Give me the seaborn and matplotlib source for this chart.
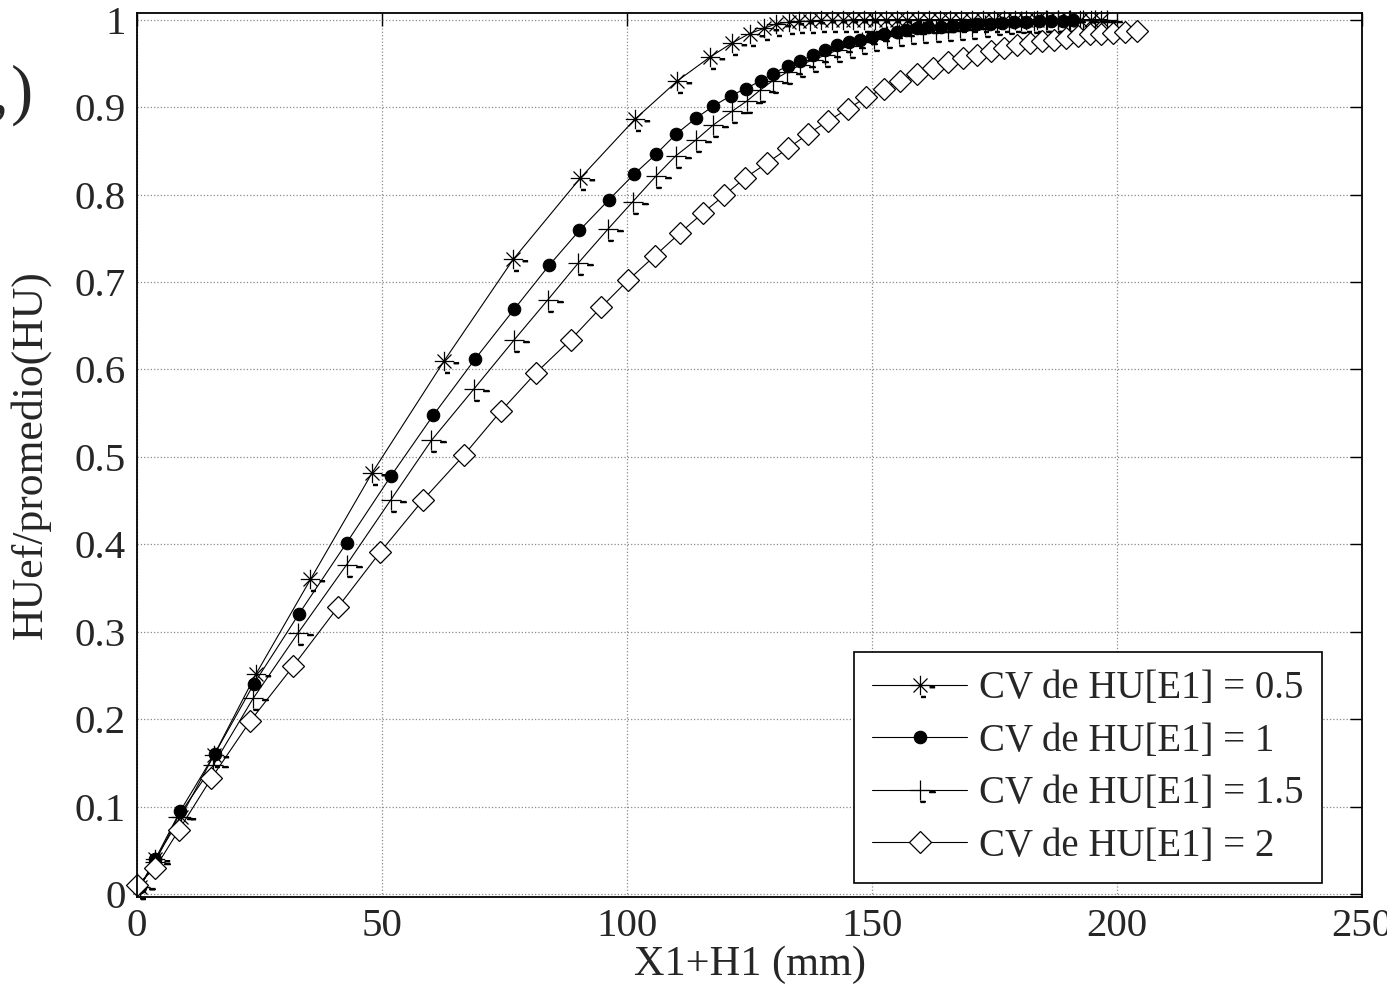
import matplotlib
matplotlib.use("Agg")
import matplotlib.pyplot as plt
from matplotlib.path import Path
import numpy as np
import seaborn as sns

# ── Data ─────────────────────────────────────────────────────────────────────
LABELS = ["CV de HU[E1] = 0.5", "CV de HU[E1] = 1",
          "CV de HU[E1] = 1.5", "CV de HU[E1] = 2"]

x_05 = [0.6, 3.7, 9.0, 15.7, 24.3, 35.4, 48.0, 62.7, 76.8, 90.5,
        101.6, 110.3, 116.9, 121.4, 125.0, 128.0, 130.4, 133.0, 135.2, 137.4,
        139.6, 141.8, 144.0, 146.2, 148.4, 150.6, 152.8, 155.0, 157.2, 159.4,
        161.6, 163.8, 166.0, 168.2, 170.4, 172.6, 174.8, 177.0, 179.2, 181.4,
        183.6, 185.8, 188.0, 190.2, 192.4, 194.6, 196.8]
y_05 = [0.009, 0.040, 0.089, 0.159, 0.252, 0.360, 0.482, 0.610, 0.726, 0.819,
        0.886, 0.930, 0.957, 0.973, 0.984, 0.990, 0.995, 0.997, 0.998, 0.998,
        0.999, 0.999, 0.999, 1.0, 1.0, 1.0, 1.0, 1.0, 1.0, 1.0,
        1.0, 1.0, 1.0, 1.0, 1.0, 1.0, 1.0, 1.0, 1.0, 1.0,
        1.0, 1.0, 1.0, 1.0, 1.0, 1.0, 1.0]

x_1 = [0.6, 3.7, 8.8, 15.9, 23.9, 33.1, 42.8, 51.8, 60.5, 69.0,
       77.0, 84.1, 90.3, 96.3, 101.4, 105.9, 110.0, 114.0, 117.6, 121.2,
       124.2, 127.3, 129.7, 132.8, 135.3, 137.9, 140.4, 142.8, 145.4, 147.6,
       149.9, 152.5, 155.0, 156.9, 159.1, 161.5, 164.0, 166.5, 169.0, 171.5,
       174.0, 176.5, 179.0, 181.5, 184.0, 186.5, 189.0, 191.0]
y_1 = [0.008, 0.040, 0.095, 0.161, 0.241, 0.321, 0.402, 0.478, 0.548, 0.612,
       0.669, 0.719, 0.759, 0.794, 0.823, 0.846, 0.869, 0.887, 0.901, 0.913,
       0.921, 0.930, 0.938, 0.947, 0.953, 0.959, 0.965, 0.971, 0.974, 0.977,
       0.980, 0.983, 0.986, 0.988, 0.990, 0.991, 0.992, 0.993, 0.994, 0.995,
       0.995, 0.996, 0.997, 0.997, 0.998, 0.998, 0.998, 0.999]

x_15 = [0.6, 3.7, 8.4, 15.6, 23.7, 32.9, 42.8, 51.8, 60.1, 68.8,
        77.0, 83.9, 90.1, 96.2, 101.2, 105.9, 109.9, 114.0, 117.5, 121.4,
        124.5, 127.1, 129.7, 132.7, 135.3, 138.0, 140.4, 142.8, 145.5, 148.0,
        150.5, 153.0, 155.5, 158.0, 160.5, 163.0, 165.5, 168.0, 170.5, 173.0,
        175.5, 178.0, 180.5, 183.0, 185.5, 188.0, 190.5, 193.0, 195.5, 198.0]
y_15 = [0.009, 0.037, 0.089, 0.148, 0.224, 0.299, 0.377, 0.451, 0.519, 0.578,
        0.634, 0.680, 0.722, 0.761, 0.792, 0.821, 0.844, 0.862, 0.879, 0.895,
        0.907, 0.919, 0.930, 0.940, 0.948, 0.954, 0.959, 0.965, 0.970, 0.974,
        0.978, 0.981, 0.984, 0.986, 0.987, 0.988, 0.989, 0.990, 0.992, 0.994,
        0.996, 0.997, 0.998, 0.998, 0.999, 0.999, 0.999, 1.0, 1.0, 1.0]

x_2 = [0.0, 3.7, 8.6, 15.2, 23.1, 31.9, 41.1, 49.6, 58.4, 66.7,
       74.2, 81.4, 88.5, 94.7, 100.2, 105.7, 110.8, 115.5, 119.8, 124.1,
       128.6, 132.9, 136.9, 141.0, 145.1, 148.8, 152.4, 155.7, 159.2, 162.5,
       165.6, 168.6, 171.5, 174.3, 177.0, 179.6, 182.2, 184.7, 187.2, 189.6,
       192.0, 194.4, 196.8, 199.2, 201.6, 204.0]
y_2 = [0.011, 0.030, 0.074, 0.133, 0.198, 0.261, 0.329, 0.391, 0.451, 0.502,
       0.552, 0.596, 0.634, 0.671, 0.702, 0.730, 0.756, 0.779, 0.799, 0.819,
       0.836, 0.853, 0.869, 0.884, 0.898, 0.911, 0.921, 0.930, 0.938, 0.945,
       0.951, 0.956, 0.960, 0.964, 0.968, 0.971, 0.973, 0.975, 0.977, 0.979,
       0.981, 0.983, 0.984, 0.985, 0.986, 0.987]

X_TICKS = [0, 50, 100, 150, 200, 250]
Y_TICKS = [0, 0.1, 0.2, 0.3, 0.4, 0.5, 0.6, 0.7, 0.8, 0.9, 1]


# ── Markers: MATLAB-ish asterisk / plus with the little printing dashes ──────
def dashed_marker(arms):
    verts, codes = [], []
    for (a, b) in arms:
        verts += [a, b]
        codes += [Path.MOVETO, Path.LINETO]
    # the two small dashes that the export leaves next to each marker
    for dy in (0.0, -0.06, -0.12):
        verts += [(0.95, -0.12 + dy), (1.5, -0.12 + dy)]
        codes += [Path.MOVETO, Path.LINETO]
        verts += [(0.05, -1.12 + dy), (0.55, -1.12 + dy)]
        codes += [Path.MOVETO, Path.LINETO]
    return Path(verts, codes)


STAR = dashed_marker([((0, -1), (0, 1)), ((-1, 0), (1, 0)),
                      ((-0.72, -0.72), (0.72, 0.72)), ((-0.72, 0.72), (0.72, -0.72))])
PLUS = dashed_marker([((0, -1), (0, 1)), ((-1, 0), (1, 0))])

# ── Style ────────────────────────────────────────────────────────────────────
sns.set_theme(style="white")
plt.rcParams["font.family"] = ["Liberation Serif", "DejaVu Serif"]
FS = 29.5

fig = plt.figure(figsize=(13.87, 9.98), dpi=100)
ax = fig.add_axes([137 / 1387, 101 / 998, 1225 / 1387, 884 / 998])

series = [
    (x_05, y_05, LABELS[0], dict(marker=STAR, ms=21, mfc="none", mec="black", mew=0.9)),
    (x_1, y_1, LABELS[1], dict(marker="o", ms=9, mfc="black", mec="black", mew=0.8)),
    (x_15, y_15, LABELS[2], dict(marker=PLUS, ms=21, mfc="none", mec="black", mew=0.9)),
    (x_2, y_2, LABELS[3], dict(marker="D", ms=11.5, mfc="white", mec="black", mew=0.9)),
]
for xs, ys, lab, mk in series:
    sns.lineplot(x=xs, y=ys, ax=ax, sort=False, estimator=None,
                 color="black", lw=0.8, label=lab, clip_on=False, **mk)

ax.set_xlim(0, 250)
ax.set_ylim(-0.003, 1.0075)
ax.set_xticks(X_TICKS)
ax.set_yticks(Y_TICKS)
ax.set_xticklabels([f"{t:g}" for t in X_TICKS], fontsize=FS)
ax.set_yticklabels([f"{t:g}" for t in Y_TICKS], fontsize=FS)
ax.tick_params(direction="in", top=True, right=True, length=9, width=1,
               color="black", pad=8)
ax.grid(True, linestyle=":", color="#8a8a8a", lw=0.9)
for sp in ax.spines.values():
    sp.set_color("black")
    sp.set_linewidth(1.3)

ax.set_xlabel("X1+H1 (mm)", fontsize=30.5, labelpad=0)
ax.set_ylabel("HUef/promedio(HU)", fontsize=31.5, labelpad=17)

leg = ax.legend(loc="lower right", bbox_to_anchor=(0.967, 0.016), fontsize=28,
                frameon=True, fancybox=False, edgecolor="black", framealpha=1,
                handlelength=2.44, handletextpad=0.31, labelspacing=0.40,
                borderpad=0.46, borderaxespad=0)
leg.get_frame().set_linewidth(1.2)

# partially cut panel label at the very left edge
fig.text(-0.006, 0.905, ",", fontsize=48, ha="left", va="center")
fig.text(0.008, 0.905, ")", fontsize=48, ha="left", va="center")

fig.savefig("out.png", dpi=100)
